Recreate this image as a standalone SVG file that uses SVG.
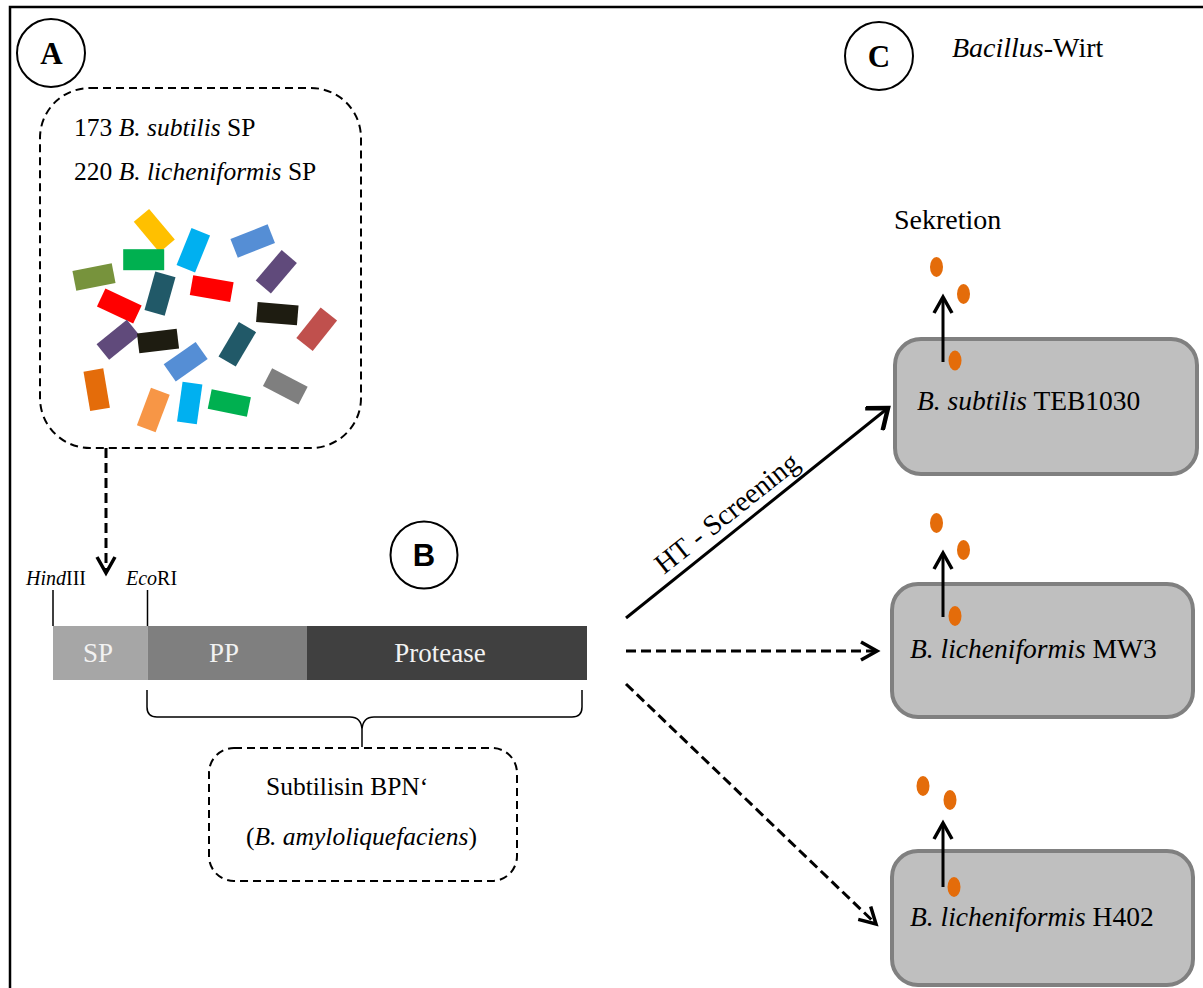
<svg xmlns="http://www.w3.org/2000/svg" width="1203" height="988" viewBox="0 0 1203 988">
  <style>
    .serif { font-family: "Liberation Serif", "Times New Roman", serif; fill: #000; }
    .it { font-style: italic; }
    .dashbox { fill: none; stroke: #000; stroke-width: 2; stroke-dasharray: 8 5; }
    .badge { fill: #fff; stroke: #000; stroke-width: 2; }
    .cell { fill: #BFBFBF; stroke: #808080; stroke-width: 4; }
    .dot { fill: #E46C0A; }
    .tick { stroke: #000; stroke-width: 1.5; fill: none; }
    .barlabel { font-family: "Liberation Serif", "Times New Roman", serif; fill: #F2F2F2; font-size: 27px; text-anchor: middle; }
    .conn { fill: none; stroke: #000; stroke-width: 3; }
    .dashed { stroke-dasharray: 10 5; }
  </style>
  <defs>
    <marker id="open" markerUnits="userSpaceOnUse" markerWidth="24" markerHeight="24" viewBox="0 0 24 24" refX="20" refY="12" orient="auto">
      <path d="M4,3 L20,12 L4,21" fill="none" stroke="#000" stroke-width="3.5" stroke-dasharray="none"/>
    </marker>
    <marker id="openBig" markerUnits="userSpaceOnUse" markerWidth="30" markerHeight="30" viewBox="0 0 30 30" refX="26" refY="15" orient="auto">
      <path d="M8,1 L26,15 L8,29" fill="none" stroke="#000" stroke-width="4.5" stroke-dasharray="none"/>
    </marker>
  </defs>

  <rect width="1203" height="988" fill="#fff"/>
  <!-- outer frame (left and top edges) -->
  <path d="M10,988 V7 H1203" fill="none" stroke="#000" stroke-width="2.5"/>

  <!-- Panel A: signal peptide library -->
  <g id="badge-a">
    <circle class="badge" cx="51" cy="53" r="34"/>
    <text class="serif" x="51.5" y="64" font-size="31" font-weight="bold" text-anchor="middle">A</text>
  </g>
  <g id="sp-library">
    <rect class="dashbox" x="40" y="88" width="321" height="360" rx="50"/>
    <text class="serif" x="74" y="136" font-size="25.5">173 <tspan class="it">B. subtilis</tspan> SP</text>
    <text class="serif" x="74" y="180" font-size="25.5">220 <tspan class="it">B. licheniformis</tspan> SP</text>
    <g id="peptides">
      <rect x="-20" y="-10" width="40" height="20" fill="#FFC000" transform="translate(154.3,230.7) rotate(50)"/>
      <rect x="-20.5" y="-10.5" width="41" height="21" fill="#00B050" transform="translate(143.7,259.7) rotate(0)"/>
      <rect x="-20" y="-10" width="40" height="20" fill="#00B0F0" transform="translate(193.3,250.3) rotate(-68)"/>
      <rect x="-20" y="-10" width="40" height="20" fill="#558ED5" transform="translate(252.7,241) rotate(-21.6)"/>
      <rect x="-20" y="-10" width="40" height="20" fill="#77933C" transform="translate(94,277) rotate(-11)"/>
      <rect x="-20" y="-10.5" width="40" height="21" fill="#215968" transform="translate(160,293.7) rotate(-74.3)"/>
      <rect x="-20.5" y="-10" width="41" height="20" fill="#FF0000" transform="translate(211.7,288.7) rotate(9.9)"/>
      <rect x="-20" y="-10" width="40" height="20" fill="#604A7B" transform="translate(276.3,271.7) rotate(-49.5)"/>
      <rect x="-20" y="-10" width="40" height="20" fill="#FF0000" transform="translate(119.3,306) rotate(25)"/>
      <rect x="-20.5" y="-10" width="41" height="20" fill="#1E1C11" transform="translate(277.3,313.7) rotate(4.6)"/>
      <rect x="-19.5" y="-10.5" width="39" height="21" fill="#C0504D" transform="translate(316.7,329.3) rotate(-51.4)"/>
      <rect x="-19.5" y="-10" width="39" height="20" fill="#604A7B" transform="translate(118,339.7) rotate(-39)"/>
      <rect x="-20" y="-10" width="40" height="20" fill="#1E1C11" transform="translate(158,341) rotate(-6.8)"/>
      <rect x="-20" y="-10" width="40" height="20" fill="#215968" transform="translate(237.3,344.3) rotate(-59.4)"/>
      <rect x="-19.5" y="-10.5" width="39" height="21" fill="#558ED5" transform="translate(185.7,361.7) rotate(-35)"/>
      <rect x="-20" y="-10" width="40" height="20" fill="#E46C0A" transform="translate(96.7,389.7) rotate(80.4)"/>
      <rect x="-20" y="-10" width="40" height="20" fill="#F79646" transform="translate(153.3,410) rotate(-69.4)"/>
      <rect x="-20" y="-10" width="40" height="20" fill="#00B0F0" transform="translate(189.7,403) rotate(-82)"/>
      <rect x="-20" y="-10" width="40" height="20" fill="#00B050" transform="translate(229.3,403) rotate(11.5)"/>
      <rect x="-20" y="-10" width="40" height="20" fill="#7F7F7F" transform="translate(285.3,386.3) rotate(27.4)"/>
    </g>
  </g>

  <!-- Panel B: expression construct -->
  <g id="badge-b">
    <circle class="badge" cx="424" cy="555" r="33.5"/>
    <text x="424" y="566" font-family="Liberation Sans, Arial, sans-serif" font-weight="bold" font-size="31" text-anchor="middle">B</text>
  </g>
  <g id="construct">
    <text class="serif" x="26" y="585" font-size="20"><tspan class="it">Hind</tspan>III</text>
    <text class="serif" x="126" y="585" font-size="20"><tspan class="it">Eco</tspan>RI</text>
    <path class="tick" d="M53,590 V626 M147.5,590 V626"/>
    <rect x="53" y="626" width="94.5" height="54" fill="#A6A6A6"/>
    <rect x="147.5" y="626" width="159.5" height="54" fill="#7F7F7F"/>
    <rect x="307" y="626" width="280" height="54" fill="#404040"/>
    <text class="barlabel" x="98" y="662">SP</text>
    <text class="barlabel" x="224" y="662">PP</text>
    <text class="barlabel" x="440" y="662">Protease</text>
    <path class="tick" d="M147,690 V707 Q147,717 157,717 H350 Q361,717 362,729 V747 M582,690 V707 Q582,717 572,717 H374 Q363,717 362,729"/>
  </g>
  <g id="subtilisin">
    <rect class="dashbox" x="209" y="748" width="308" height="133" rx="25"/>
    <text class="serif" x="266" y="795" font-size="25.5">Subtilisin BPN‘</text>
    <text class="serif" x="246" y="845" font-size="25.5">(<tspan class="it">B. amyloliquefaciens</tspan>)</text>
  </g>

  <!-- Panel C: Bacillus hosts -->
  <g id="badge-c">
    <circle class="badge" cx="879" cy="56" r="34"/>
    <text class="serif" x="879" y="67" font-size="31" font-weight="bold" text-anchor="middle">C</text>
  </g>
  <text class="serif" x="952" y="57" font-size="28"><tspan class="it">Bacillus</tspan>-Wirt</text>
  <text class="serif" x="894" y="229" font-size="28">Sekretion</text>

  <g id="host-subtilis">
    <rect class="cell" x="895" y="339" width="302" height="135" rx="26"/>
    <text class="serif" x="917" y="410" font-size="27.5"><tspan class="it">B. subtilis</tspan> TEB1030</text>
    <ellipse class="dot" cx="936.5" cy="267" rx="6.5" ry="10"/>
    <ellipse class="dot" cx="963.5" cy="294" rx="6.5" ry="10"/>
    <ellipse class="dot" cx="955" cy="360.5" rx="6.5" ry="10"/>
    <line class="conn" x1="943" y1="362" x2="943" y2="297" stroke-width="3.5" marker-end="url(#open)"/>
  </g>
  <g id="host-mw3">
    <rect class="cell" x="892" y="584" width="301" height="133" rx="26"/>
    <text class="serif" x="910" y="658" font-size="27.5"><tspan class="it">B. licheniformis</tspan> MW3</text>
    <ellipse class="dot" cx="936.5" cy="523" rx="6.5" ry="10"/>
    <ellipse class="dot" cx="963.5" cy="550" rx="6.5" ry="10"/>
    <ellipse class="dot" cx="955" cy="616" rx="6.5" ry="10"/>
    <line class="conn" x1="943" y1="617" x2="943" y2="553" stroke-width="3.5" marker-end="url(#open)"/>
  </g>
  <g id="host-h402">
    <rect class="cell" x="892" y="851" width="301" height="134" rx="26"/>
    <text class="serif" x="910" y="926" font-size="27.5"><tspan class="it">B. licheniformis</tspan> H402</text>
    <ellipse class="dot" cx="923" cy="786" rx="6.5" ry="10"/>
    <ellipse class="dot" cx="950" cy="800" rx="6.5" ry="10"/>
    <ellipse class="dot" cx="954" cy="887" rx="6.5" ry="10"/>
    <line class="conn" x1="943" y1="887" x2="943" y2="823" stroke-width="3.5" marker-end="url(#open)"/>
  </g>

  <!-- connectors -->
  <g id="connectors">
    <line class="conn dashed" x1="106" y1="448" x2="106" y2="573" stroke-width="3.5" marker-end="url(#open)"/>
    <line class="conn" x1="626" y1="618" x2="888" y2="408" stroke-width="4.5" marker-end="url(#openBig)"/>
    <text class="serif" font-size="28.5" transform="translate(664,575) rotate(-38.5)">HT - Screening</text>
    <line class="conn dashed" x1="626" y1="651" x2="877" y2="651" marker-end="url(#open)"/>
    <line class="conn dashed" x1="626" y1="684" x2="876" y2="924" marker-end="url(#open)"/>
  </g>
</svg>
